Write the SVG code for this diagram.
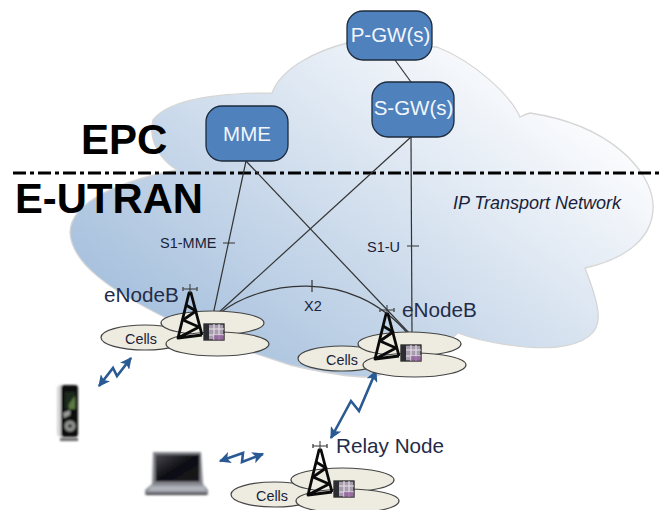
<svg xmlns="http://www.w3.org/2000/svg" width="665" height="510" viewBox="0 0 665 510">
<style>
text{font-family:"Liberation Sans",Arial,sans-serif;fill:#1a2238}
.big{font-size:42px;font-weight:bold;fill:#000}
.lbl{font-size:14.5px}
.nm{font-size:20.7px;fill:#232c48}
.cell{font-size:14.4px}
.box{fill:#4f81bd;stroke:#1d2b3d;stroke-width:1.3}
.bt{font-size:20.5px;fill:#f2f6fb;text-anchor:middle}
.ln{fill:none;stroke:#333;stroke-width:1.2}
.el{fill:#eeece1;stroke:#444;stroke-width:1.2}
.bolt{fill:none;stroke:#2a5a93;stroke-width:2.6;stroke-linejoin:miter;marker-start:url(#ah);marker-end:url(#ah)}
</style>
<defs>
<linearGradient id="cg" gradientUnits="userSpaceOnUse" x1="200" y1="350" x2="446" y2="22">
<stop offset="0" stop-color="#a9c2de"/><stop offset="1" stop-color="#fafbfd"/>
</linearGradient>
<linearGradient id="scr" x1="0" y1="0" x2="1" y2="1">
<stop offset="0" stop-color="#4a4a50"/><stop offset=".5" stop-color="#0e0e12"/><stop offset="1" stop-color="#18181c"/>
</linearGradient>
<marker id="ah" viewBox="0 0 10 10" refX="9" refY="5" markerWidth="4.500" markerHeight="4.500" orient="auto-start-reverse"><path d="M0 0L10 5L0 10L2.500 5Z" fill="#2a5a93"/></marker>
<filter id="soft" x="-10%" y="-10%" width="120%" height="120%"><feGaussianBlur stdDeviation="0.8"/></filter>
<g id="site">
<ellipse class="el" cx="212.500" cy="323" rx="51.500" ry="12"/>
<ellipse class="el" cx="217.500" cy="344" rx="51.500" ry="12"/>
<g fill="none" stroke="#0a0a0a" stroke-width="2.800" stroke-linejoin="round">
<path d="M178 338L189 293L191 293L202 335"/>
<path d="M186 305L196 311L183 320L199 327L178 338L202 335"/>
<path d="M190 284V293M183 289H197" stroke-width="1" stroke="#333"/>
<path d="M183 287V291M197 287V291" stroke-width="1.500" stroke="#555"/>
</g>
<rect x="204" y="324" width="20" height="16" fill="#a79cad" stroke="#222" stroke-width="1.300"/>
<rect x="204" y="324" width="5" height="16" fill="#2c2c33"/>
<path d="M209 329H224M209 335H224M214 324V340M219 324V340" stroke="#e6e2e8" stroke-width="1.100"/>
<rect x="214" y="335" width="10" height="5" fill="#8e5a98" opacity=".7"/>
</g>
</defs>
<rect width="665" height="510" fill="#fff"/>
<path id="cloud" d="M347 43C320 50 282 66 272 93C225 93 170 98 153 120C148 140 160 160 177 170C125 180 70 200 70 233C72 262 105 288 170 320C210 340 245 350 290 365C320 372 350 378 373 377C400 370 440 350 458 333C480 342 530 350 557 347C590 343 600 330 598 313C597 298 590 282 585 268C630 258 655 235 653 203C650 170 610 125 530 113C526 114 522 116 520 117C510 95 475 62 437 47Z" fill="url(#cg)" stroke="#d6d6d6" stroke-width="1.300"/>
<text class="big" x="81" y="154">EPC</text>
<text class="big" x="15" y="213" textLength="188" lengthAdjust="spacingAndGlyphs">E-UTRAN</text>
<path d="M13 173H660" stroke="#000" stroke-width="3" stroke-dasharray="13 4 4 4" fill="none"/>
<g id="connectors">
<path class="ln" d="M395 60L411 82"/>
<path class="ln" d="M246 161L213 315"/>
<path class="ln" d="M246 161L411 335"/>
<path class="ln" d="M411 137L217 314"/>
<path class="ln" d="M411 137L412 335"/>
<path class="ln" d="M220 313C260 282 350 265 409 335"/>
<path class="ln" d="M223 243H235M407 246H419M312 280V292"/>
<polyline class="bolt" points="99,386 113,368 117,376 131,358"/>
<polyline class="bolt" points="331,438 351,401 359,411 376,371"/>
<polyline class="bolt" points="220,461 243,453 242,462 263,454"/>
</g>
<text class="lbl" x="160" y="248">S1-MME</text>
<text class="lbl" x="367" y="252">S1-U</text>
<text class="lbl" x="304" y="311">X2</text>
<text x="453" y="209" font-size="18" font-style="italic">IP Transport Network</text>
<g id="pgw"><rect class="box" x="347" y="11" width="85" height="49" rx="16"/><text class="bt" x="390.500" y="42">P-GW(s)</text></g>
<g id="sgw"><rect class="box" x="372" y="82" width="82" height="55" rx="16"/><text class="bt" x="413.500" y="115">S-GW(s)</text></g>
<g id="mme"><rect class="box" x="206" y="106" width="82" height="55" rx="16"/><text class="bt" x="247" y="141">MME</text></g>
<g id="enb1">
<ellipse class="el" cx="145" cy="337.500" rx="44" ry="12.500"/>
<use href="#site"/>
<text class="cell" x="125" y="344">Cells</text>
<text class="nm" x="104" y="302">eNodeB</text>
</g>
<g id="enb2">
<ellipse class="el" cx="342" cy="358.500" rx="44" ry="12.500"/>
<use href="#site" transform="translate(197 21)"/>
<text class="cell" x="326" y="365">Cells</text>
<text class="nm" x="402" y="317">eNodeB</text>
</g>
<g id="relay">
<ellipse class="el" cx="275" cy="494.500" rx="44" ry="12.500"/>
<use href="#site" transform="translate(130 157)"/>
<text class="cell" x="256" y="501">Cells</text>
<text class="nm" x="336" y="453">Relay Node</text>
</g>
<g id="phone" filter="url(#soft)">
<path d="M60 438H78V441H60Z" fill="#666"/>
<rect x="57" y="385" width="21" height="52" rx="4" fill="#d5d6d8"/>
<rect x="61" y="385" width="17" height="52" rx="3" fill="#0d0d0d"/>
<rect x="65" y="392" width="10" height="17" fill="#1c2a1a"/>
<path d="M69 404L75 396V409H69Z" fill="#5c7a45"/>
<path d="M63 413L70 410V415L64 418Z" fill="#9a9c98"/>
<circle cx="70" cy="426" r="5.500" fill="#8f928f"/>
<circle cx="70" cy="426" r="2" fill="#2b2b2b"/>
</g>
<g id="laptop" filter="url(#soft)">
<path d="M153 452H201L203 484H152Z" fill="#85878d"/>
<rect x="155.500" y="454.500" width="44" height="27" fill="url(#scr)"/>
<path d="M152 484H203L208 490V495H145V490Z" fill="#8c8e97"/>
<path d="M151 486H204L206 491H148Z" fill="#b0b2ba"/>
<path d="M146 493H207V495H146Z" fill="#3a3a40"/>
</g>
</svg>
